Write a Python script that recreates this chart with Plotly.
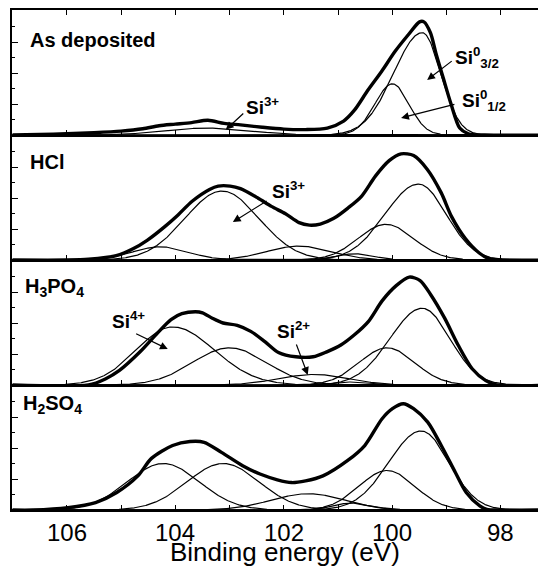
import numpy as np
import plotly.graph_objects as go

# ---------------- data ----------------
panel_names = ["<b>As deposited</b>", "<b>HCl</b>",
               "<b>H<sub>3</sub>PO<sub>4</sub></b>", "<b>H<sub>2</sub>SO<sub>4</sub></b>"]

# measured envelopes (binding energy eV, intensity a.u.)
env1_x = [107.0, 106.5, 106.0, 105.5, 105.0, 104.6, 104.3, 104.0, 103.7, 103.4, 103.1, 102.8,
          102.4, 102.0, 101.6, 101.2, 100.9, 100.7, 100.45, 100.2, 99.95, 99.7, 99.5, 99.42,
          99.3, 99.2, 99.07, 98.92, 98.76, 98.6, 98.3, 97.0]
env1_y = [0.0, 0.03, 0.08, 0.15, 0.25, 0.4, 0.6, 0.7, 0.8, 0.95, 0.75, 0.65,
          0.5, 0.38, 0.35, 0.45, 0.9, 1.6, 2.9, 4.1, 5.4, 6.5, 7.3, 7.3,
          6.6, 5.3, 3.76, 2.0, 0.45, 0.08, 0.0, 0.0]

env2_x = [107.0, 106.0, 105.6, 105.09, 104.78, 104.52, 104.2, 103.95, 103.69, 103.37, 103.21,
          102.99, 102.8, 102.48, 102.23, 101.97, 101.72, 101.53, 101.33, 101.08, 100.82, 100.57,
          100.31, 100.06, 99.84, 99.61, 99.36, 99.1, 98.91, 98.66, 98.4, 98.21, 98.0, 97.0]
env2_y = [0.0, 0.0, 0.05, 0.28, 0.72, 1.27, 2.14, 2.91, 3.79, 4.55, 4.77,
          4.77, 4.6, 4.0, 3.46, 2.98, 2.41, 2.25, 2.32, 2.69, 3.35, 4.11,
          5.43, 6.41, 6.85, 6.74, 5.86, 4.33, 2.8, 1.4, 0.45, 0.07, 0.0, 0.0]

env3_x = [107.0, 105.6, 105.29, 105.03, 104.65, 104.33, 104.08, 103.88, 103.63, 103.5, 103.31,
          103.12, 102.86, 102.61, 102.35, 102.1, 101.78, 101.46, 101.21, 100.95, 100.7, 100.44,
          100.19, 99.93, 99.69, 99.49, 99.3, 99.04, 98.79, 98.53, 98.28, 98.08, 97.0]
env3_y = [0.0, 0.0, 0.39, 0.94, 2.14, 3.35, 4.22, 4.6, 4.73, 4.66, 4.29,
          4.0, 3.85, 3.46, 2.8, 2.1, 1.82, 1.82, 2.14, 2.58, 3.24, 4.11,
          5.43, 6.41, 6.96, 6.74, 5.86, 4.33, 2.58, 1.05, 0.28, 0.0, 0.0]

env4_x = [107.0, 106.62, 105.98, 105.47, 105.08, 104.69, 104.44, 104.05, 103.73, 103.47, 103.15,
          102.76, 102.44, 102.12, 101.86, 101.6, 101.28, 100.83, 100.51, 100.19, 100.0, 99.8,
          99.61, 99.35, 99.1, 98.84, 98.64, 98.39, 98.26, 98.0, 97.0]
env4_y = [0.0, 0.0, 0.15, 0.48, 1.13, 2.2, 3.33, 4.16, 4.42, 4.37, 3.72,
          2.86, 2.32, 1.95, 1.77, 1.88, 2.2, 3.18, 4.16, 5.89, 6.54, 6.86,
          6.54, 5.67, 4.16, 2.42, 1.13, 0.26, 0.04, 0.0, 0.0]

# fitted components: centre (eV), height, half-widths on high-BE and low-BE side (eV)
comp1_center = [103.4, 100.0, 99.45]
comp1_height = [0.45, 3.3, 6.6]
comp1_w_hi = [0.9, 0.38, 0.62]
comp1_w_lo = [0.9, 0.36, 0.40]

comp2_center = [104.28, 103.14, 101.72, 100.69, 100.12, 99.52]
comp2_height = [0.85, 4.45, 0.9, 0.4, 2.3, 4.9]
comp2_w_hi = [0.6, 0.8, 0.7, 0.4, 0.6, 0.72]
comp2_w_lo = [0.6, 0.8, 0.7, 0.4, 0.6, 0.6]

comp3_center = [104.05, 103.0, 101.45, 100.7, 100.1, 99.45]
comp3_height = [3.75, 2.4, 0.68, 0.2, 2.4, 4.95]
comp3_w_hi = [0.78, 0.8, 0.75, 0.4, 0.6, 0.7]
comp3_w_lo = [0.9, 0.8, 0.75, 0.4, 0.6, 0.6]

comp4_center = [104.22, 103.12, 101.55, 100.75, 100.1, 99.47]
comp4_height = [3.0, 3.0, 1.05, 0.45, 2.55, 5.1]
comp4_w_hi = [0.78, 0.78, 0.8, 0.4, 0.6, 0.7]
comp4_w_lo = [0.78, 0.78, 0.8, 0.4, 0.6, 0.6]

x_tick_vals = [98, 99, 100, 101, 102, 103, 104, 105, 106]
x_label_vals = [106, 104, 102, 100, 98]

envelopes = [(env1_x, env1_y), (env2_x, env2_y), (env3_x, env3_y), (env4_x, env4_y)]
components = [
    (comp1_center, comp1_height, comp1_w_hi, comp1_w_lo),
    (comp2_center, comp2_height, comp2_w_hi, comp2_w_lo),
    (comp3_center, comp3_height, comp3_w_hi, comp3_w_lo),
    (comp4_center, comp4_height, comp4_w_hi, comp4_w_lo),
]

# ---------------- figure ----------------
FONT = "Liberation Sans, Arial, Helvetica, sans-serif"
BODY = 8                       # default page margin of the html body
W, H = 546 - BODY, 569 - BODY
ML, MR, MT = 12 - BODY, 0, 10 - BODY
PLOT_H = 500
MB = H - MT - PLOT_H
YMAX = 8.065
XR = [107.01, 97.17]

grid = np.linspace(97.0, 107.2, 1021)

def component(c, h, whi, wlo):
    w = np.where(grid > c, whi, wlo)
    return h * np.exp(-np.log(2) * ((grid - c) / w) ** 2)

fig = go.Figure()
ids = ["", "2", "3", "4"]
for k in range(4):
    xa, ya = "x" + ids[k], "y" + ids[k]
    cen, hei, whi, wlo = components[k]
    for c, h, a, b in zip(cen, hei, whi, wlo):
        fig.add_trace(go.Scatter(x=grid, y=component(c, h, a, b), mode="lines",
                                 line=dict(color="black", width=1.2),
                                 xaxis=xa, yaxis=ya, hoverinfo="skip"))
    ex, ey = envelopes[k]
    fig.add_trace(go.Scatter(x=ex, y=ey, mode="lines",
                             line=dict(color="black", width=3.4, shape="spline", smoothing=0.8),
                             xaxis=xa, yaxis=ya, hoverinfo="skip"))

layout = dict(width=W, height=H, margin=dict(l=ML, r=MR, t=MT, b=MB, pad=0),
              plot_bgcolor="white", paper_bgcolor="white", showlegend=False,
              font=dict(family=FONT, color="black"))
for k in range(4):
    top = 1 - k * 0.25
    dom = [top - 0.25, top]
    layout["xaxis" + ids[k]] = dict(range=XR, domain=[0, 1], anchor="y" + ids[k],
                                    showline=True, linecolor="black", linewidth=2,
                                    ticks="inside", tickvals=x_tick_vals, ticklen=5,
                                    tickwidth=1.3, tickcolor="black", showgrid=False,
                                    zeroline=False, showticklabels=False,
                                    mirror=("ticks" if k == 0 else False))
    layout["yaxis" + ids[k]] = dict(range=[0, YMAX], domain=dom, anchor="x" + ids[k],
                                    showline=True, linecolor="black", linewidth=2,
                                    ticks="inside", tickvals=[2, 4, 6], ticklen=6,
                                    tickwidth=1.3, tickcolor="black", showticklabels=False,
                                    showgrid=False, zeroline=False,
                                    minor=dict(tickvals=[1, 3, 5, 7], ticklen=3,
                                               ticks="inside", tickwidth=1.3,
                                               tickcolor="black"))
fig.update_layout(**layout)

def px2paper(px, py):
    # page pixel -> paper coordinates
    return (px - 12) / 534.0, (510 - py) / 500.0

ann = []
# panel labels
label_pos = [(28, 40), (28, 162), (23, 287), (21, 404)]
for name, (px, py) in zip(panel_names, label_pos):
    x, y = px2paper(px, py)
    ann.append(dict(text=name, x=x, y=y, xref="paper", yref="paper", xanchor="left",
                    yanchor="middle", showarrow=False, font=dict(size=20, family=FONT)))

# species labels: (panel, text, x eV, y intensity)
species = [
    (0, "<b>Si<sup>3+</sup></b>", 102.74, 1.85),
    (0, "<b>Si<sup>0</sup><sub>3/2</sub></b>", 98.88, 5.0),
    (0, "<b>Si<sup>0</sup><sub>1/2</sub></b>", 98.76, 2.25),
    (1, "<b>Si<sup>3+</sup></b>", 102.26, 4.5),
    (2, "<b>Si<sup>4+</sup></b>", 105.21, 4.2),
    (2, "<b>Si<sup>2+</sup></b>", 102.17, 3.55),
]
for k, t, x, y in species:
    ann.append(dict(text=t, x=x, y=y, xref="x" + ids[k], yref="y" + ids[k],
                    xanchor="left", yanchor="middle", showarrow=False,
                    font=dict(size=19, family=FONT)))

# arrows: (panel, tail x, tail y, tip x, tip y)
arrows = [
    (0, 102.72, 1.48, 103.07, 0.35),
    (0, 98.88, 4.84, 99.36, 3.55),
    (0, 98.83, 2.0, 99.84, 1.1),
    (1, 102.29, 3.87, 102.94, 2.45),
    (2, 104.75, 3.35, 104.14, 2.32),
    (2, 101.78, 2.71, 101.56, 0.65),
]
for k, tx, ty, hx, hy in arrows:
    ann.append(dict(text="", x=hx, y=hy, ax=tx, ay=ty, xref="x" + ids[k], yref="y" + ids[k],
                    axref="x" + ids[k], ayref="y" + ids[k], showarrow=True,
                    arrowhead=2, arrowsize=1.3, arrowwidth=1.2, arrowcolor="black",
                    standoff=0))

# x tick labels of the bottom panel
_, ly = px2paper(0, 532)
for v in x_label_vals:
    ann.append(dict(text=str(v), x=v, y=ly, xref="x4", yref="paper", xanchor="center",
                    yanchor="middle", showarrow=False, font=dict(size=24, family=FONT)))

# x-axis title
tx, ty = px2paper(285, 552)
ann.append(dict(text="Binding energy (eV)", x=tx, y=ty, xref="paper", yref="paper",
                xanchor="center", yanchor="middle", showarrow=False,
                font=dict(size=26, family=FONT)))

fig.update_layout(annotations=ann)
fig.write_html("out.html")
